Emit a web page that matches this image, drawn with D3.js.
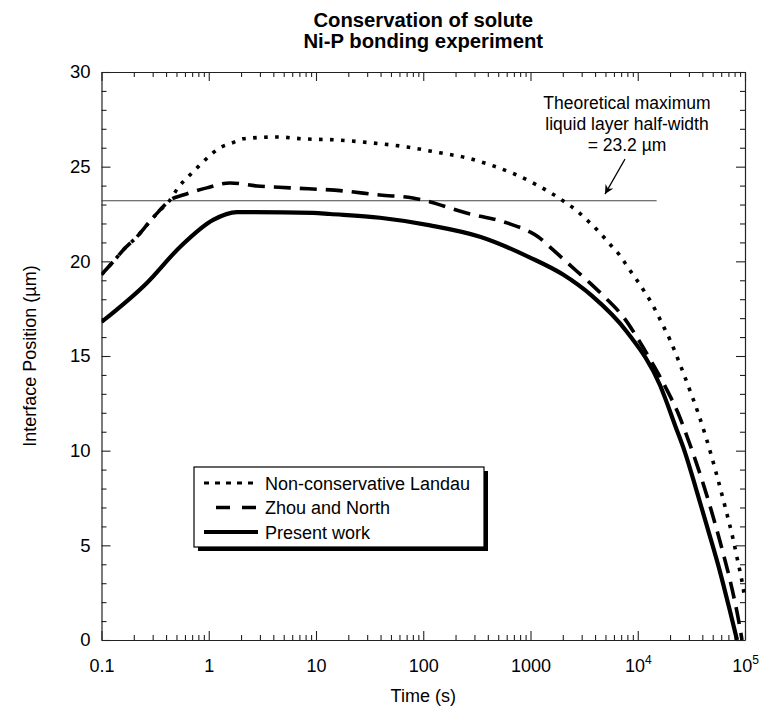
<!DOCTYPE html>
<html>
<head>
<meta charset="utf-8">
<script src="https://cdn.jsdelivr.net/npm/d3@7"></script>
<style>
  body { margin: 0; background: #fff; }
  svg { display: block; font-family: "Liberation Sans", Arial, Helvetica, sans-serif; }
</style>
</head>
<body>
<svg id="chart" width="762" height="715"></svg>
<script>
// ---------- data ----------
const titleLines = ["Conservation of solute", "Ni-P bonding experiment"];
const xLabel = "Time (s)";
const yLabel = "Interface Position (\u00b5m)";

const xMajorTicks = [0.1, 1, 10, 100, 1000, 1e4, 1e5];
const xTickLabels = ["0.1", "1", "10", "100", "1000", "10^4", "10^5"];
const yMajorTicks = [0, 5, 10, 15, 20, 25, 30];

// Non-conservative Landau (dotted)
const landauT = [0.1, 0.128, 0.166, 0.214, 0.272, 0.337, 0.436, 0.516, 0.641, 0.794, 0.985, 1.27, 1.65, 2.09, 2.59, 4.33, 7.57, 15.7, 34, 70.6, 143, 256, 419, 716, 1175, 2010, 2720, 3440, 4450, 5510, 6830, 8280, 9840, 11700, 13600, 15450, 17600, 20000, 24800, 30100, 36500, 43300, 53700, 65100, 77300, 86100, 95800, 100000];
const landauV = [19.3, 19.97, 20.7, 21.3, 22.0, 22.6, 23.24, 23.88, 24.46, 24.99, 25.5, 26.0, 26.25, 26.47, 26.52, 26.57, 26.47, 26.41, 26.25, 26.04, 25.73, 25.46, 25.1, 24.6, 24.0, 23.2, 22.66, 22.13, 21.5, 20.9, 20.3, 19.6, 19.0, 18.35, 17.75, 17.15, 16.5, 15.85, 14.55, 13.3, 12.0, 10.7, 8.85, 7.05, 5.35, 4.1, 2.8, 2.1];

// Zhou and North (dashed)
const zhouT = [0.1, 0.128, 0.166, 0.214, 0.272, 0.337, 0.436, 0.575, 0.96, 1.58, 2.82, 5.73, 17.9, 39.5, 80, 116, 235, 604, 990, 1175, 1520, 2335, 3590, 4950, 7600, 10050, 13900, 18750, 23700, 29450, 44250, 58500, 75700, 86100, 93800];
const zhouV = [19.3, 19.97, 20.7, 21.3, 22.0, 22.6, 23.24, 23.5, 23.88, 24.14, 23.98, 23.88, 23.72, 23.5, 23.35, 23.14, 22.6, 22.03, 21.55, 21.3, 20.75, 19.8, 18.85, 18.1, 16.95, 15.9, 14.55, 13.2, 12.0, 10.6, 7.6, 5.2, 2.7, 1.2, 0];

// Present work (solid)
const presentT = [0.1, 0.265, 0.54, 1.1, 1.83, 9.4, 13.5, 39.5, 116, 338, 990, 2010, 3700, 7940, 16100, 22750, 27600, 34900, 44250, 58500, 72600, 84300];
const presentV = [16.8, 18.86, 20.76, 22.19, 22.6, 22.56, 22.5, 22.3, 21.9, 21.3, 20.2, 19.3, 18.2, 16.27, 13.47, 11.2, 9.9, 8.0, 6.0, 3.6, 1.5, 0];

const refValue = 23.2;      // theoretical maximum half-width
const refEndT = 15000;      // horizontal reference line ends here
const annotationLines = ["Theoretical maximum", "liquid layer half-width", "= 23.2 \u00b5m"];
const arrowFrom = [7600, 25.4];
const arrowTo = [4950, 23.55];

const legendNames = ["Non-conservative Landau", "Zhou and North", "Present work"];

// ---------- layout ----------
const svg = d3.select("#chart");
const M = { left: 101.5, right: 745, top: 72, bottom: 640 };
const x = d3.scaleLog().domain([0.1, 1e5]).range([M.left, M.right]);
const y = d3.scaleLinear().domain([0, 30]).range([M.bottom, M.top]);

const styles = [
  { dash: "3.6,7.4", width: 3.6, cap: "butt" },
  { dash: "17,9", width: 3.6, cap: "butt" },
  { dash: null, width: 4.2, cap: "butt" }
];

// defs
const defs = svg.append("defs");
defs.append("clipPath").attr("id", "plotclip")
  .append("rect").attr("x", M.left).attr("y", M.top - 10)
  .attr("width", M.right - M.left + 1).attr("height", M.bottom - M.top + 10);

defs.append("marker")
  .attr("id", "arrowhead").attr("viewBox", "0 0 10 10")
  .attr("refX", 10).attr("refY", 5)
  .attr("markerWidth", 9).attr("markerHeight", 9)
  .attr("markerUnits", "userSpaceOnUse")
  .attr("orient", "auto")
  .append("path").attr("d", "M0,0 L10,5 L0,10 L3,5 Z").attr("fill", "#000");

// title
svg.append("g").selectAll("text").data(titleLines).join("text")
  .attr("x", (M.left + M.right) / 2)
  .attr("y", (d, i) => 27 + i * 21)
  .attr("text-anchor", "middle")
  .attr("font-weight", "bold")
  .attr("font-size", 20.3)
  .text(d => d);

// axes
const minorX = [];
for (let e = -1; e < 5; e++) for (let k = 2; k <= 9; k++) minorX.push(k * Math.pow(10, e));
const minorY = d3.range(0, 31, 1).filter(v => v % 5 !== 0);

function styleAxis(g) {
  g.select(".domain").attr("stroke", "#222").attr("stroke-width", 1.2);
  g.selectAll(".tick line").attr("stroke", "#222").attr("stroke-width", 1.1);
}
function styleMinor(g) {
  g.select(".domain").remove();
  g.selectAll(".tick line").attr("stroke", "#222").attr("stroke-width", 1.1);
}

// bottom
const gB = svg.append("g").attr("transform", `translate(0,${M.bottom})`)
  .call(d3.axisBottom(x).tickValues(xMajorTicks).tickSize(-9).tickSizeOuter(0).tickPadding(19)
    .tickFormat((d, i) => xTickLabels[i]));
styleAxis(gB);
gB.selectAll(".tick text").attr("font-size", 18).attr("fill", "#000")
  .attr("font-family", '"Liberation Sans", Arial, sans-serif')
  .each(function (d, i) {
    const lab = xTickLabels[i];
    if (lab.includes("^")) {
      const [base, sup] = lab.split("^");
      const t = d3.select(this).text(null);
      t.append("tspan").text(base);
      t.append("tspan").attr("dy", -8).attr("font-size", 12).text(sup);
    }
  });
svg.append("g").attr("transform", `translate(0,${M.bottom})`)
  .call(d3.axisBottom(x).tickValues(minorX).tickSize(-5).tickSizeOuter(0).tickFormat(""))
  .call(styleMinor);

// top
const gT = svg.append("g").attr("transform", `translate(0,${M.top})`)
  .call(d3.axisTop(x).tickValues(xMajorTicks).tickSize(-9).tickSizeOuter(0).tickFormat(""));
styleAxis(gT);
svg.append("g").attr("transform", `translate(0,${M.top})`)
  .call(d3.axisTop(x).tickValues(minorX).tickSize(-5).tickSizeOuter(0).tickFormat(""))
  .call(styleMinor);

// left
const gL = svg.append("g").attr("transform", `translate(${M.left},0)`)
  .call(d3.axisLeft(y).tickValues(yMajorTicks).tickSize(-9).tickSizeOuter(0).tickPadding(11)
    .tickFormat(d3.format("d")));
styleAxis(gL);
gL.selectAll(".tick text").attr("font-size", 18.5).attr("fill", "#000")
  .attr("font-family", '"Liberation Sans", Arial, sans-serif');
svg.append("g").attr("transform", `translate(${M.left},0)`)
  .call(d3.axisLeft(y).tickValues(minorY).tickSize(-5).tickSizeOuter(0).tickFormat(""))
  .call(styleMinor);

// right
const gR = svg.append("g").attr("transform", `translate(${M.right},0)`)
  .call(d3.axisRight(y).tickValues(yMajorTicks).tickSize(-9).tickSizeOuter(0).tickFormat(""));
styleAxis(gR);
svg.append("g").attr("transform", `translate(${M.right},0)`)
  .call(d3.axisRight(y).tickValues(minorY).tickSize(-5).tickSizeOuter(0).tickFormat(""))
  .call(styleMinor);

// axis titles
svg.append("text")
  .attr("x", (M.left + M.right) / 2).attr("y", 702)
  .attr("text-anchor", "middle").attr("font-size", 18).text(xLabel);
svg.append("text")
  .attr("transform", `translate(36,${(M.top + M.bottom) / 2}) rotate(-90)`)
  .attr("text-anchor", "middle").attr("font-size", 18).text(yLabel);

// reference line
svg.append("line")
  .attr("x1", x(0.1)).attr("x2", x(refEndT))
  .attr("y1", y(refValue)).attr("y2", y(refValue))
  .attr("stroke", "#444").attr("stroke-width", 1.2);

// series
const series = [
  { t: landauT, v: landauV },
  { t: zhouT, v: zhouV },
  { t: presentT, v: presentV }
];
const line = d3.line().x(d => x(d[0])).y(d => y(d[1])).curve(d3.curveMonotoneX);
const gS = svg.append("g").attr("clip-path", "url(#plotclip)");
series.forEach((s, i) => {
  const pts = s.t.map((t, j) => [t, s.v[j]]);
  gS.append("path").datum(pts)
    .attr("d", line)
    .attr("fill", "none")
    .attr("stroke", "#000")
    .attr("stroke-width", styles[i].width)
    .attr("stroke-linecap", styles[i].cap)
    .attr("stroke-dasharray", styles[i].dash);
});

// annotation
svg.append("g").selectAll("text").data(annotationLines).join("text")
  .attr("x", 627).attr("y", (d, i) => 109 + i * 21)
  .attr("text-anchor", "middle").attr("font-size", 17.5)
  .text(d => d);
svg.append("line")
  .attr("x1", x(arrowFrom[0])).attr("y1", y(arrowFrom[1]))
  .attr("x2", x(arrowTo[0])).attr("y2", y(arrowTo[1]))
  .attr("stroke", "#000").attr("stroke-width", 1.2)
  .attr("marker-end", "url(#arrowhead)");

// legend
const L = { x: 194, y: 467, w: 290, h: 80 };
const gLeg = svg.append("g");
gLeg.append("rect").attr("x", L.x + 4).attr("y", L.y + 4).attr("width", L.w).attr("height", L.h).attr("fill", "#000");
gLeg.append("rect").attr("x", L.x).attr("y", L.y).attr("width", L.w).attr("height", L.h)
  .attr("fill", "#fff").attr("stroke", "#000").attr("stroke-width", 1.2);
const legendSample = [
  { x1: 204, x2: 258, dash: "5,6", width: 3 },
  { x1: 216, x2: 258, dash: "14,12", width: 3.6 },
  { x1: 204, x2: 258, dash: null, width: 4 }
];
legendNames.forEach((name, i) => {
  const cy = L.y + 16 + i * 24.5;
  gLeg.append("line").attr("x1", legendSample[i].x1).attr("x2", legendSample[i].x2)
    .attr("y1", cy).attr("y2", cy)
    .attr("stroke", "#000").attr("stroke-width", legendSample[i].width)
    .attr("stroke-dasharray", legendSample[i].dash);
  gLeg.append("text").attr("x", 265).attr("y", cy + 6.5)
    .attr("font-size", 18).text(name);
});
</script>
</body>
</html>
